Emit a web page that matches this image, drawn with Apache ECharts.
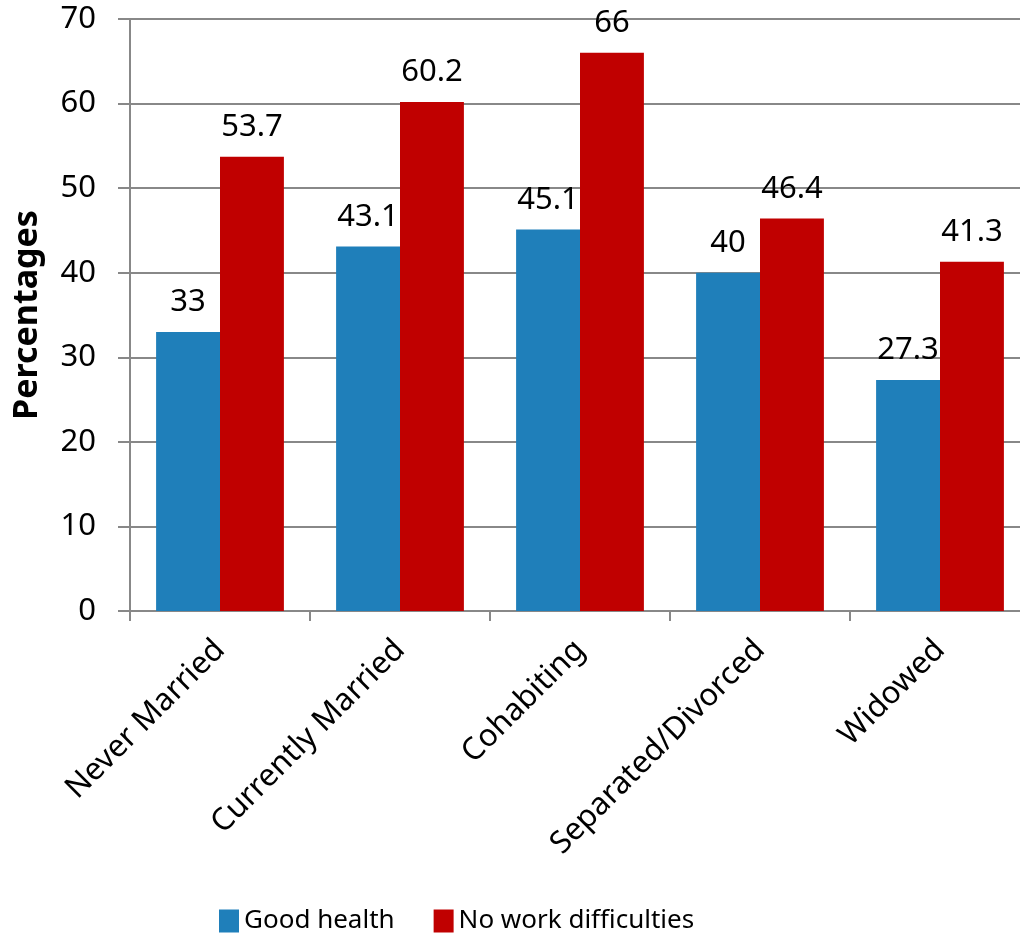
<!DOCTYPE html>
<html>
<head>
<meta charset="utf-8">
<script src="https://cdn.jsdelivr.net/npm/echarts@6/dist/echarts.min.js"></script>
<style>
  html, body { margin: 0; padding: 0; background: #fff; }
  #chart { width: 1020px; height: 937px; }
</style>
</head>
<body>
<div id="chart"></div>
<script>
// marital status groups
var categories = ['Never Married', 'Currently Married', 'Cohabiting', 'Separated/Divorced', 'Widowed'];
var goodHealth = [33, 43.1, 45.1, 40, 27.3];
var noWorkDiff = [53.7, 60.2, 66, 46.4, 41.3];
var yTicks = [0, 10, 20, 30, 40, 50, 60, 70];

var font = 'Noto Sans';
var chart = echarts.init(document.getElementById('chart'));

var option = {
  animation: false,
  textStyle: { fontFamily: font },
  color: ['#1f7fba', '#c00000'],
  grid: {
    left: 130,
    top: 19,
    bottom: 326,
    width: 900,
    outerBoundsMode: 'none',
    containLabel: false
  },
  legend: {
    data: ['Good health', 'No work difficulties'],
    left: 214,
    top: 903,
    itemWidth: 20,
    itemHeight: 23,
    itemGap: 39,
    icon: 'rect',
    textStyle: { fontSize: 26, color: '#000', fontFamily: font }
  },
  xAxis: {
    type: 'category',
    data: categories,
    axisLine: { lineStyle: { color: '#888', width: 2 } },
    axisTick: { show: true, length: 10, lineStyle: { color: '#888', width: 2 } },
    axisLabel: {
      rotate: 45,
      margin: 34,
      fontSize: 31,
      color: '#000',
      interval: 0
    }
  },
  yAxis: {
    type: 'value',
    min: yTicks[0],
    max: yTicks[yTicks.length - 1],
    interval: 10,
    name: 'Percentages',
    nameLocation: 'middle',
    nameGap: 86,
    nameRotate: 90,
    nameTextStyle: { fontSize: 34, fontWeight: 'bold', color: '#000' },
    axisLine: { show: true, lineStyle: { color: '#888', width: 2 } },
    axisTick: { show: true, length: 12, lineStyle: { color: '#888', width: 2 } },
    axisLabel: { fontSize: 31, color: '#000', margin: 34 },
    splitLine: { lineStyle: { color: '#888', width: 2 } }
  },
  series: [{
    name: 'Good health',
    type: 'bar',
    data: goodHealth,
    barGap: 0,
    barCategoryGap: '29%',
    label: { show: true, position: 'top', distance: 14, fontSize: 31, color: '#000' }
  }, {
    name: 'No work difficulties',
    type: 'bar',
    data: noWorkDiff,
    barGap: 0,
    barCategoryGap: '29%',
    label: { show: true, position: 'top', distance: 14, fontSize: 31, color: '#000' }
  }]
};

chart.setOption(option);
</script>
</body>
</html>
